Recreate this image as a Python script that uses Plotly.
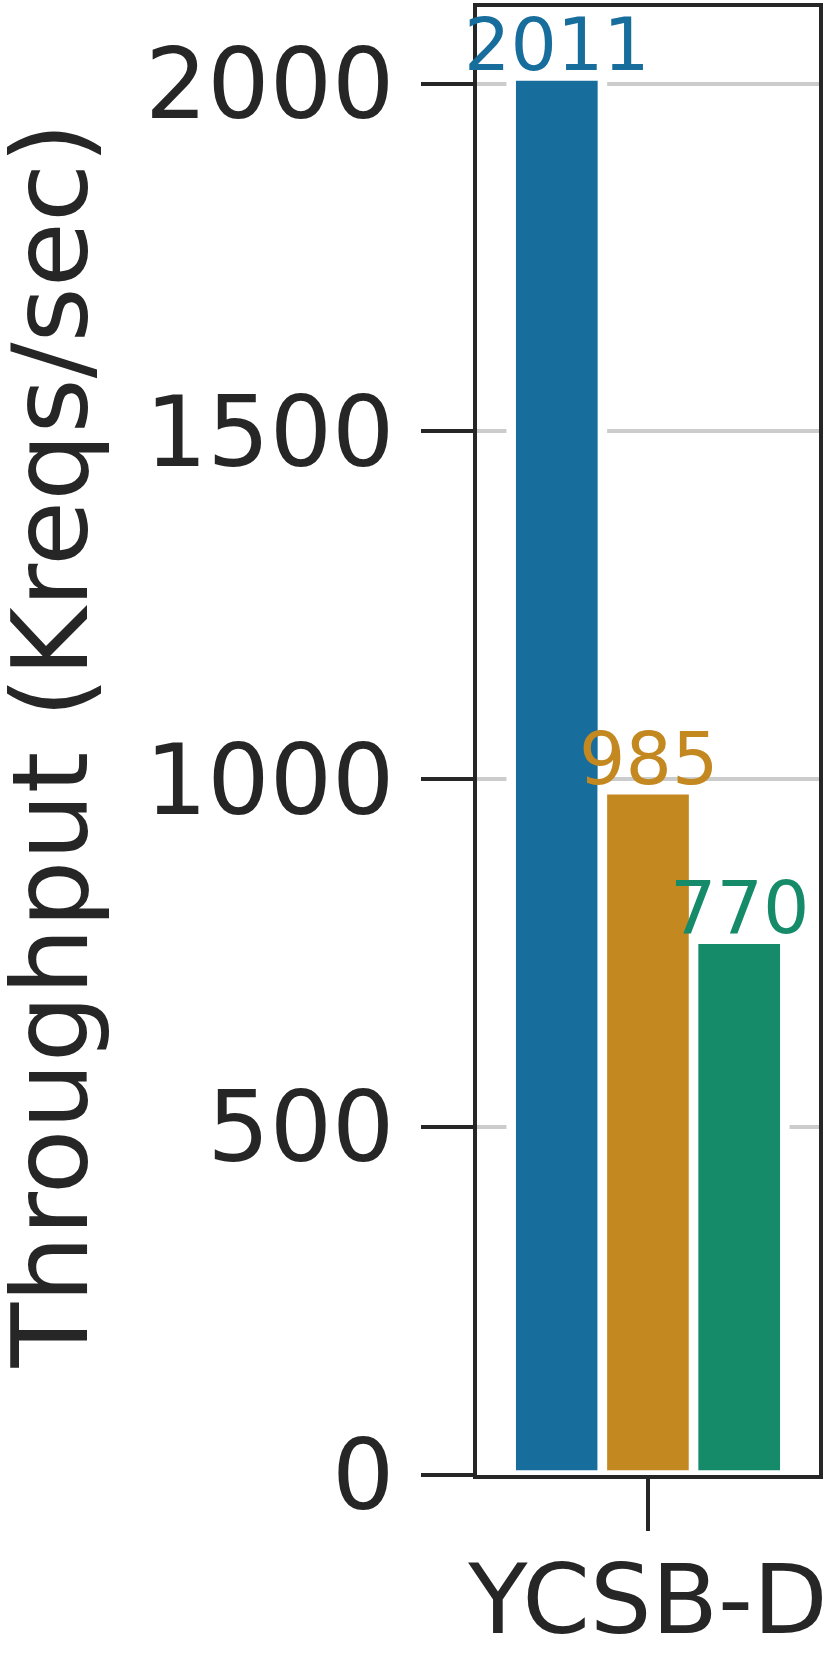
import plotly.graph_objects as go

# ---- data ----
categories = ["YCSB-D"]
series_names = ["A", "B", "C"]
series_values = [[2011], [985], [770]]
series_colors = ["#176d9c", "#c38820", "#168b6a"]
y_ticks = [0, 500, 1000, 1500, 2000]
y_title = "Throughput (Kreqs/sec)"

W, H = 835, 1660
FONT = "DejaVu Sans"
TXT = "#262626"
BARGAP = 0.2

fig = go.Figure()
for name, vals, col in zip(series_names, series_values, series_colors):
    fig.add_trace(go.Bar(
        x=categories, y=vals, name=name,
        marker=dict(color=col, line=dict(color="white", width=9.5)),
        showlegend=False,
    ))

# value labels above each bar
n = len(series_names)
annotations = []
for j, (vals, col) in enumerate(zip(series_values, series_colors)):
    for i, v in enumerate(vals):
        annotations.append(dict(
            x=i + (j - (n - 1) / 2) * (1 - BARGAP) / n, y=v,
            xref="x", yref="y", text=str(v), showarrow=False,
            xanchor="center", yanchor="bottom", yshift=-13,
            font=dict(family=FONT, size=73, color=col),
        ))

# y-axis title (placed as rotated text left of tick labels)
annotations.append(dict(
    x=0, y=0.5, xref="paper", yref="paper", text=y_title, showarrow=False,
    textangle=-90, xanchor="right", yanchor="middle", xshift=-364, yshift=-5,
    font=dict(family=FONT, size=106, color=TXT),
))

fig.update_layout(
    width=W, height=H,
    margin=dict(l=477, r=16, t=7, b=185, autoexpand=False),
    paper_bgcolor="white", plot_bgcolor="white",
    barmode="group", bargap=BARGAP, bargroupgap=0,
    font=dict(family=FONT, color=TXT),
    annotations=annotations,
)
fig.update_xaxes(
    type="category", range=[-0.5, 0.5],
    showline=True, linecolor=TXT, linewidth=4, mirror=True,
    ticks="outside", ticklen=52, tickwidth=4, tickcolor=TXT,
    tickfont=dict(family=FONT, size=97, color=TXT),
    ticklabelstandoff=-14,
    showgrid=False, zeroline=False,
)
fig.update_yaxes(
    range=[0, 2110],
    tickvals=y_ticks, ticktext=[str(t) for t in y_ticks],
    showline=True, linecolor=TXT, linewidth=4, mirror=True,
    ticks="outside", ticklen=52, tickwidth=4, tickcolor=TXT,
    tickfont=dict(family=FONT, size=98, color=TXT),
    ticklabelstandoff=7,
    showgrid=True, gridcolor="#cccccc", gridwidth=4,
    zeroline=False,
    automargin=False,
)
fig.write_html(
    "out.html",
    config={"displayModeBar": False},
    post_script="document.body.style.margin='0';document.body.style.overflow='hidden';",
)
